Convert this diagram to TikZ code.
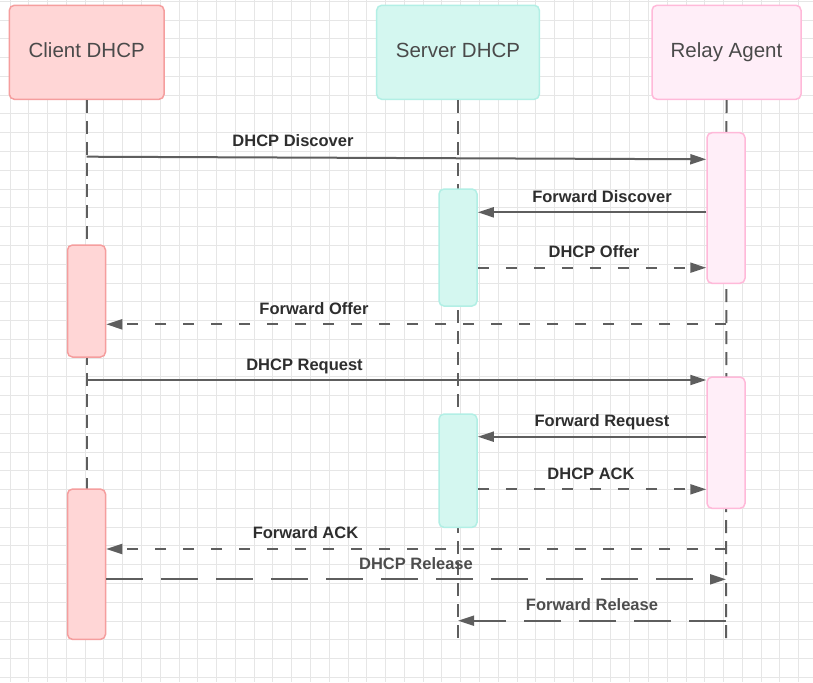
\documentclass[tikz,border=0pt]{standalone}
\usepackage{fontspec}
\setmainfont{Liberation Sans}
\usetikzlibrary{arrows.meta}
\definecolor{gridc}{HTML}{E6E6E6}
\definecolor{linec}{HTML}{5E5E5E}
\definecolor{txtc}{HTML}{4A4A4A}
\definecolor{lblc}{HTML}{2E2E2E}
\definecolor{cfill}{HTML}{FFD6D6}
\definecolor{cdraw}{HTML}{F59E9E}
\definecolor{sfill}{HTML}{D4F7F0}
\definecolor{sdraw}{HTML}{B2EFE5}
\definecolor{rfill}{HTML}{FFEEF8}
\definecolor{rdraw}{HTML}{FFB9D9}
\begin{document}
\begin{tikzpicture}[x=1pt,y=-1pt,
 actor/.style={draw, line width=1.5pt, rounded corners=5pt, minimum height=94pt, text=txtc,
   font=\fontsize{20.5}{24}\selectfont, text height=15pt, text depth=5pt, inner sep=0pt},
 act/.style={draw, line width=1.5pt, rounded corners=5pt, minimum width=38pt, inner sep=0pt},
 life/.style={linec, line width=2pt, dash pattern=on 13pt off 8pt},
 msg/.style={linec, line width=2pt, -{Triangle[length=16pt,width=10pt]}},
 rep/.style={msg, dash pattern=on 11pt off 17pt},
 rel/.style={msg, dash pattern=on 37pt off 18pt},
 lbl/.style={anchor=base, text=lblc, font=\fontsize{16.5}{19}\selectfont\bfseries, inner sep=0pt}]

\fill[white] (0,0) rectangle (813,682);
\useasboundingbox (0,0) rectangle (813,682);
\foreach \i in {0,...,42} \draw[gridc, line width=1pt] ({10+18.78*\i},0) -- ({10+18.78*\i},682);
\foreach \j in {0,...,36} \draw[gridc, line width=1pt] (0,{1.3+18.78*\j}) -- (813,{1.3+18.78*\j});

% actors
\node[actor, fill=cfill, draw=cdraw, minimum width=154.7pt] (client) at (86.7,52.3) {Client DHCP};
\node[actor, fill=sfill, draw=sdraw, minimum width=162.6pt] (server) at (458,52.3) {Server DHCP};
\node[actor, fill=rfill, draw=rdraw, minimum width=149pt] (relay) at (726.5,52.3) {Relay Agent};

% lifelines
\coordinate (cend) at (86.7,639);
\coordinate (send) at (458,640);
\coordinate (rend) at (726,640);
\draw[life] (client.south) -- (cend);
\draw[life] (server.south) -- (send);
\draw[life] (relay.south) -- (rend);

% activations
\node[act, fill=rfill, draw=rdraw, minimum height=150.6pt] (r1) at (726,208) {};
\node[act, fill=sfill, draw=sdraw, minimum height=117pt] (s1) at (458,247.5) {};
\node[act, fill=cfill, draw=cdraw, minimum height=112pt] (c1) at (86.5,301) {};
\node[act, fill=rfill, draw=rdraw, minimum height=131.3pt] (r2) at (726,442.7) {};
\node[act, fill=sfill, draw=sdraw, minimum height=113.3pt] (s2) at (458,470.7) {};
\node[act, fill=cfill, draw=cdraw, minimum height=150.3pt] (c2) at (86.5,564.2) {};

% messages
\draw[msg] (client.south |- 0,156.7) -- (r1.west |- 0,159.3);
\draw[msg] (r1.west |- 0,212.3) -- (s1.east |- 0,212.3);
\draw[rep] (s1.east |- 0,267.7) -- (r1.west |- 0,267.7);
\draw[rep] (rend |- 0,324.3) -- (c1.east |- 0,324.3);
\draw[msg] (client.south |- 0,380) -- (r2.west |- 0,380);
\draw[msg] (r2.west |- 0,436.7) -- (s2.east |- 0,436.7);
\draw[rep] (s2.east |- 0,489.3) -- (r2.west |- 0,489.3);
\draw[rep] (rend |- 0,549) -- (c2.east |- 0,549);
\draw[rel] (c2.east |- 0,579.3) -- (rend |- 0,579.3);
\draw[rel] (rend |- 0,620.7) -- (send |- 0,620.7);

% labels
\node[lbl] (l1) at (293,146.7) {DHCP Discover};
\node[lbl] (l2) at (602,202.3) {Forward Discover};
\node[lbl] (l3) at (594,257.7) {DHCP Offer};
\node[lbl] (l4) at (314,314.3) {Forward Offer};
\node[lbl] (l5) at (304.5,370) {DHCP Request};
\node[lbl] (l6) at (602,426.7) {Forward Request};
\node[lbl] (l7) at (591,479.3) {DHCP ACK};
\node[lbl] (l8) at (305.5,538.3) {Forward ACK};
\node[lbl, text=lblc!85!white] (l9) at (416,569) {DHCP Release};
\node[lbl, text=lblc!85!white] (l10) at (592,610.7) {Forward Release};
\end{tikzpicture}
\end{document}
